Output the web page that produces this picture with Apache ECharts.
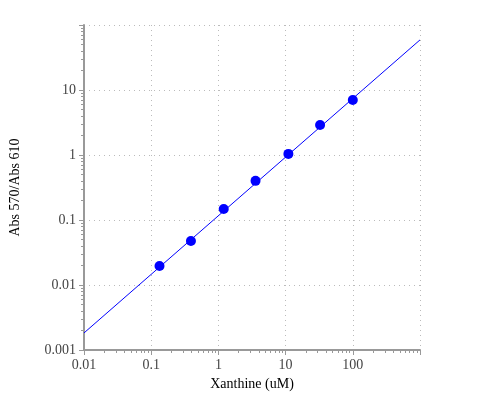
<!DOCTYPE html>
<html>
<head>
<meta charset="utf-8">
<script src="https://cdn.jsdelivr.net/npm/echarts@6/dist/echarts.min.js"></script>
<style>html,body{margin:0;padding:0;background:#fff}#chart{width:500px;height:400px}</style>
</head>
<body>
<div id="chart"></div>
<script>
// measured points
const xanthine = [0.133, 0.39, 1.2, 3.57, 11, 32.6, 100]
const absRatio = [0.0196, 0.0475, 0.148, 0.40, 1.04, 2.9, 7.0]
// fitted line end points
const fitX = [0.01, 1000]
const fitY = [0.00183, 59]

const font = 'Liberation Serif, DejaVu Serif, serif'

function axis(name, min, max, gap, labelHide) {
    return {
        type: 'log', logBase: 10, min: min, max: max,
        name: name, nameLocation: 'middle', nameGap: gap,
        nameTextStyle: { color: '#000', fontSize: 14, fontFamily: font },
        axisLine: { show: true, lineStyle: { color: '#999', width: 2 } },
        axisTick: { show: true, length: 5, lineStyle: { color: '#999' } },
        minorTick: { show: true, splitNumber: 9, length: 3, lineStyle: { color: '#999' } },
        splitLine: { show: true, lineStyle: { color: '#bbb', type: [1, 4] } },
        axisLabel: {
            color: '#444', fontSize: 14, fontFamily: font,
            formatter: v => (v >= labelHide ? '' : String(+v.toPrecision(3)))
        }
    }
}

const chart = echarts.init(document.getElementById('chart'))
chart.setOption({
    animation: false,
    grid: { left: 81, right: 80, top: 25, bottom: 50, containLabel: false },
    xAxis: axis('Xanthine (uM)', 0.01, 1000, 26, 1000),
    yAxis: axis('Abs 570/Abs 610', 0.001, 100, 62, 100),
    series: [
        {
            type: 'line', data: fitX.map((x, i) => [x, fitY[i]]),
            showSymbol: false, lineStyle: { color: '#0000ff', width: 1 }
        },
        {
            type: 'scatter', data: xanthine.map((x, i) => [x, absRatio[i]]),
            symbolSize: 10, itemStyle: { color: '#0000ff', opacity: 1 }
        }
    ]
})
</script>
</body>
</html>
